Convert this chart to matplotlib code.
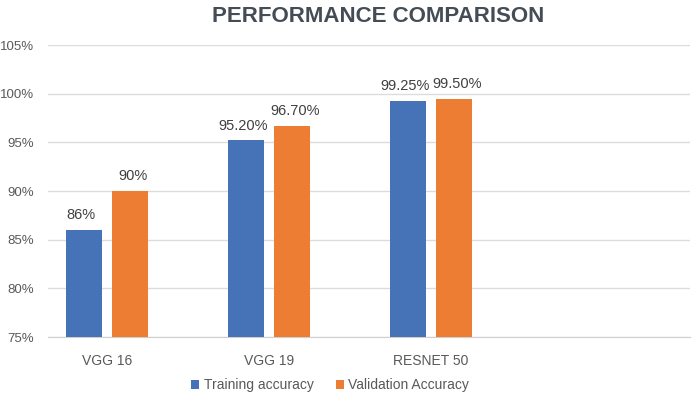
import matplotlib
matplotlib.use("Agg")
import matplotlib.pyplot as plt
import numpy as np

categories = ["VGG 16", "VGG 19", "RESNET 50"]
training = [86.0, 95.20, 99.25]
validation = [90.0, 96.70, 99.50]
train_labels = ["86%", "95.20%", "99.25%"]
val_labels = ["90%", "96.70%", "99.50%"]
yticks = [75, 80, 85, 90, 95, 100, 105]

plt.rcParams['font.family'] = ['Liberation Sans', 'DejaVu Sans']

fig = plt.figure(figsize=(6.99, 3.98), dpi=100)
ax = fig.add_axes([48/699, 61/398, (690-48)/699, (337-45)/398])

x = np.arange(len(categories))
w = 0.222
off = 0.14
blue = "#4672b8"
orange = "#ed7d33"
b1 = ax.bar(x - off, [t - 75 for t in training], w, bottom=75, color=blue, label="Training accuracy", zorder=3)
b2 = ax.bar(x + off, [v - 75 for v in validation], w, bottom=75, color=orange, label="Validation Accuracy", zorder=3)

for xi, t, lab in zip(x, training, train_labels):
    ax.text(xi - off - 0.02, t + 0.8, lab, ha="center", va="bottom", fontsize=10.5, color="#404040")
for xi, v, lab in zip(x, validation, val_labels):
    ax.text(xi + off + 0.02, v + 0.8, lab, ha="center", va="bottom", fontsize=10.5, color="#404040")

ax.set_ylim(75, 105)
ax.set_xlim(-0.364, 3.6)
ax.set_yticks(yticks)
ax.set_yticklabels([f"{t}%" for t in yticks])
ax.set_xticks(x)
ax.set_xticklabels(categories)
ax.tick_params(axis="both", length=0, labelsize=9.5, colors="#595959")
ax.tick_params(axis="x", pad=12, labelsize=10)
ax.tick_params(axis="y", pad=10)
ax.grid(axis="y", color="#dcdcdc", linewidth=1, zorder=0)
for s in ["top", "right", "left"]:
    ax.spines[s].set_visible(False)
ax.spines["bottom"].set_color("#cfcfcf")

fig.text(378/699, 1 - 16/398, "PERFORMANCE COMPARISON", ha="center", va="center",
         fontsize=16, fontweight="bold", color="#444c55")

fig.legend(handles=[b1, b2], loc="center", bbox_to_anchor=(330/699, 1 - 385/398), ncol=2,
           frameon=False, fontsize=10, handlelength=0.6, handleheight=0.6,
           handletextpad=0.3, columnspacing=1.6, labelcolor="#595959")

fig.savefig("out.png", dpi=100)
